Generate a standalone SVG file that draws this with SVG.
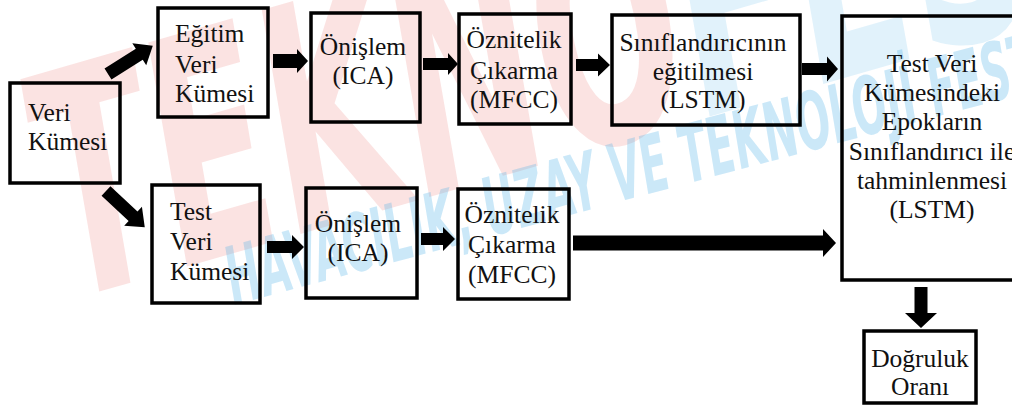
<svg xmlns="http://www.w3.org/2000/svg" width="1012" height="405" viewBox="0 0 1012 405">
  <style>
    .box { fill: none; stroke: #000; stroke-width: 3.5; }
    .t { font-family: 'Liberation Serif', 'Times New Roman', serif; font-size: 25.5px; fill: #111; }
    .c { text-anchor: middle; }
    .arr { fill: #000; }
    .wm { font-family: 'DejaVu Sans Condensed', 'DejaVu Sans', 'Liberation Sans', sans-serif; font-weight: bold; font-style: italic; }
  </style>
  <rect x="0" y="0" width="1012" height="405" fill="#fff"/>
  <g id="watermark">
    <text class="wm" transform="translate(70,300) rotate(-16) scale(0.62,1)" font-size="310" fill-opacity="0.14"><tspan fill="#e53935">TEKNO</tspan><tspan fill="#29a3e6">FEST</tspan></text>
    <text class="wm" transform="translate(234,305) rotate(-15) scale(0.56,1)" font-size="80" fill="#45aee6" fill-opacity="0.28">HAVACILIK, UZAY VE TEKNOLOJİ FESTİVALİ</text>
  </g>
  <g id="connectors">
    <polygon class="arr" transform="translate(108,74) rotate(-32.3)" points="0,-6.5 37,-6.5 37,-13 53,0 37,13 37,6.5 0,6.5"/>
    <polygon class="arr" transform="translate(106,191) rotate(43)" points="0,-6.5 37,-6.5 37,-13 53,0 37,13 37,6.5 0,6.5"/>
    <polygon class="arr" points="273,54 297,54 297,49 308,61 297,73 297,68 273,68"/>
    <polygon class="arr" points="423,58 448,58 448,53 458,64 448,75 448,70 423,70"/>
    <polygon class="arr" points="576,59 598,59 598,53.5 610,65 598,76.5 598,71 576,71"/>
    <polygon class="arr" points="802,63 827,63 827,56.5 838,69 827,81.5 827,75 802,75"/>
    <polygon class="arr" points="267,241 292,241 292,235 304,247 292,259 292,253 267,253"/>
    <polygon class="arr" points="421,233 443,233 443,227 455,239 443,251 443,245 421,245"/>
    <polygon class="arr" points="573,235.5 823,235.5 823,229 836,243 823,257 823,250.5 573,250.5"/>
    <polygon class="arr" points="914.5,287 927.5,287 927.5,313 937,313 921,328 905,313 914.5,313"/>
  </g>
  <g id="n-veri">
    <rect class="box" x="10" y="83" width="110" height="100"/>
    <text class="t"><tspan x="28" y="121">Veri</tspan><tspan x="28" y="150">Kümesi</tspan></text>
  </g>
  <g id="n-egitim">
    <rect class="box" x="158" y="8" width="110" height="109"/>
    <text class="t"><tspan x="175" y="42">Eğitim</tspan><tspan x="175" y="73">Veri</tspan><tspan x="175" y="102">Kümesi</tspan></text>
  </g>
  <g id="n-onislem1">
    <rect class="box" x="311" y="13" width="109" height="109"/>
    <text class="t c"><tspan x="363" y="55">Önişlem</tspan><tspan x="363" y="84">(ICA)</tspan></text>
  </g>
  <g id="n-oznitelik1">
    <rect class="box" x="459" y="14" width="112" height="110"/>
    <text class="t c"><tspan x="514" y="48">Öznitelik</tspan><tspan x="514" y="79">Çıkarma</tspan><tspan x="514" y="108">(MFCC)</tspan></text>
  </g>
  <g id="n-siniflandirici">
    <rect class="box" x="612" y="15" width="188" height="110"/>
    <text class="t c"><tspan x="703" y="51">Sınıflandırıcının</tspan><tspan x="703" y="80">eğitilmesi</tspan><tspan x="703" y="108">(LSTM)</tspan></text>
  </g>
  <g id="n-tahmin">
    <rect class="box" x="842" y="16" width="200" height="264"/>
    <text class="t c"><tspan x="932" y="72">Test Veri</tspan><tspan x="932" y="101">Kümesindeki</tspan><tspan x="932" y="130">Epokların</tspan><tspan x="932" y="160">Sınıflandırıcı ile</tspan><tspan x="932" y="189">tahminlenmesi</tspan><tspan x="932" y="218">(LSTM)</tspan></text>
  </g>
  <g id="n-test">
    <rect class="box" x="152" y="185" width="108" height="118"/>
    <text class="t"><tspan x="170" y="220">Test</tspan><tspan x="170" y="250">Veri</tspan><tspan x="170" y="280">Kümesi</tspan></text>
  </g>
  <g id="n-onislem2">
    <rect class="box" x="306" y="188" width="111" height="110"/>
    <text class="t c"><tspan x="358" y="232">Önişlem</tspan><tspan x="358" y="261">(ICA)</tspan></text>
  </g>
  <g id="n-oznitelik2">
    <rect class="box" x="458" y="189" width="111" height="110"/>
    <text class="t c"><tspan x="512" y="223">Öznitelik</tspan><tspan x="512" y="253">Çıkarma</tspan><tspan x="512" y="283">(MFCC)</tspan></text>
  </g>
  <g id="n-dogruluk">
    <rect class="box" x="864" y="331" width="112" height="72"/>
    <text class="t c"><tspan x="920" y="367">Doğruluk</tspan><tspan x="920" y="395">Oranı</tspan></text>
  </g>
</svg>
